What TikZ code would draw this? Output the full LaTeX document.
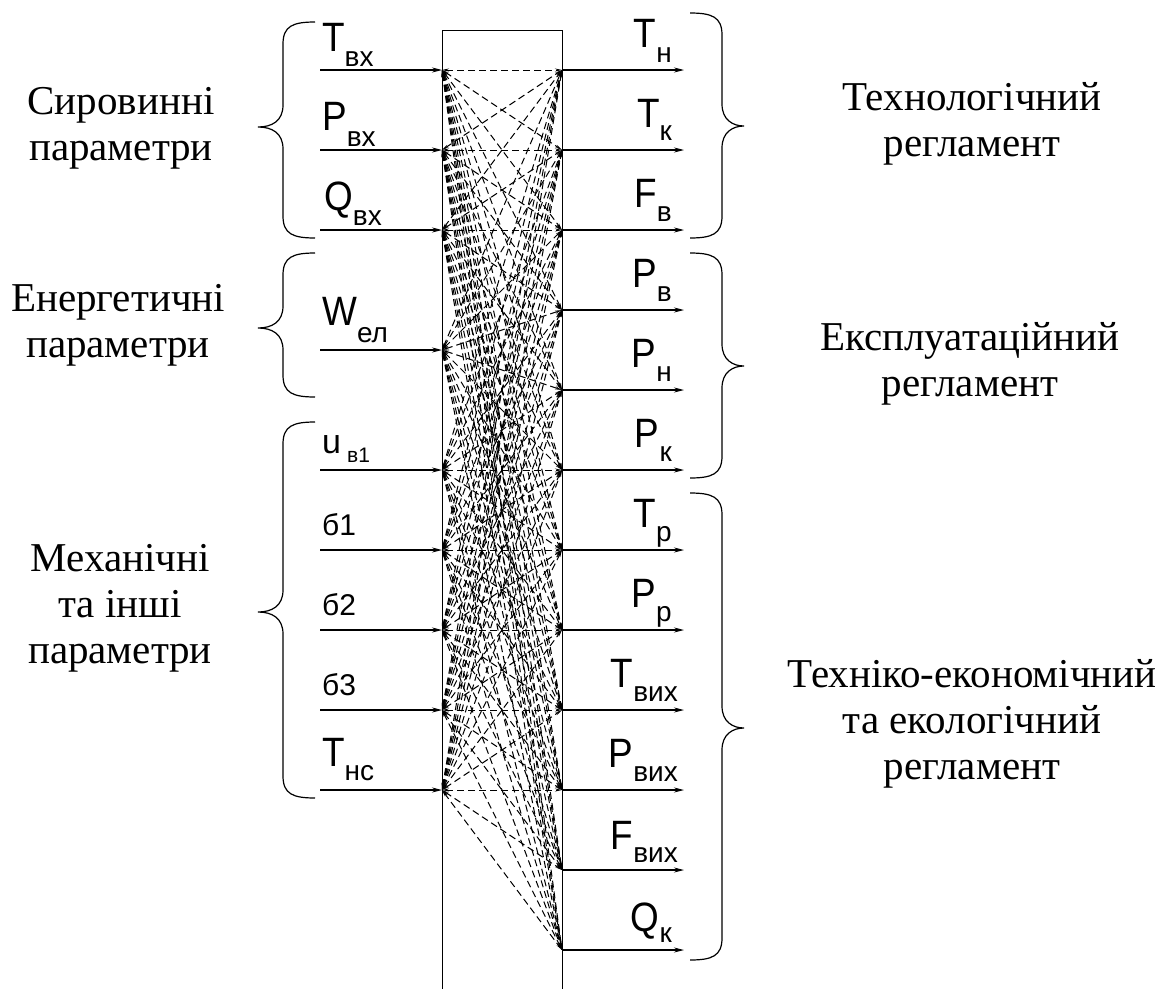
\documentclass[tikz,border=0pt]{standalone}
\usepackage{fontspec}
\setmainfont{Liberation Serif}
\newfontfamily\arialf{Liberation Sans}
\usetikzlibrary{arrows.meta}
\newcommand\mainL[1]{\scalebox{0.9}[1]{\fontsize{41}{41}\selectfont #1}}
\newcommand\subL[1]{{\fontsize{28}{28}\selectfont #1}}
\newcommand\lbrc[3]{\draw[bracestyle] (315,#1) .. controls (293,#1) and (283,#1+4) .. (283,#1+22) -- (283,#2-22) .. controls (283,#2-6) and (272,#2) .. (258,#2) .. controls (272,#2) and (283,#2+6) .. (283,#2+22) -- (283,#3-22) .. controls (283,#3-4) and (293,#3) .. (315,#3);}
\newcommand\rbrc[3]{\draw[bracestyle] (690,#1) .. controls (712,#1) and (722,#1+4) .. (722,#1+22) -- (722,#2-22) .. controls (722,#2-6) and (733,#2) .. (744,#2) .. controls (733,#2) and (722,#2+6) .. (722,#2+22) -- (722,#3-22) .. controls (722,#3-4) and (712,#3) .. (690,#3);}
\begin{document}
\begin{tikzpicture}[x=1pt,y=-1pt,
  conn/.style={line width=1.2pt,-{Stealth[length=10pt,width=5pt]}},
  web/.style={line width=1pt, dash pattern=on 7pt off 4pt, {Stealth[length=7pt,width=3pt]}-{Stealth[length=7pt,width=3pt]}},
  bracestyle/.style={line width=1.2pt},
  grp/.style={font=\fontsize{41}{46}\selectfont, align=center, inner sep=0pt},
  lbl/.style={font=\arialf, inner sep=0pt}
]
\useasboundingbox (0,0) rectangle (1167,988);
\clip (0,0) rectangle (1167,988);
\node[draw, line width=1.1pt, minimum width=120pt, minimum height=990pt, anchor=north west, inner sep=0pt] (box) at (442,30) {};
\foreach \y [count=\i] in {70,150,230,350,470,550,630,710,790} {
  \coordinate (L\i) at (442,\y);
  \coordinate (LS\i) at (320,\y);
}
\foreach \y [count=\j] in {70,150,230,310,390,470,550,630,710,790,870,950} {
  \coordinate (R\j) at (562,\y);
  \coordinate (RE\j) at (684,\y);
}
\foreach \i in {1,...,9} {\foreach \j in {1,...,12} {\draw[web] (L\i) -- (R\j);}}
\foreach \i in {1,...,9} {\draw[conn] (LS\i) -- (L\i);}
\foreach \j in {1,...,12} {\draw[conn] (R\j) -- (RE\j);}
% left labels
\node[lbl, anchor=base west] (tvx) at (322,51) {\mainL{T}\raisebox{-15pt}{\subL{вх}}};
\node[lbl, anchor=base west] (pvx) at (322,130) {\mainL{P}\raisebox{-16pt}{\subL{вх}}};
\node[lbl, anchor=base west] (qvx) at (324,210) {\mainL{Q}\raisebox{-15pt}{\subL{вх}}};
\node[lbl, anchor=base west] (wel) at (322,325) {\mainL{W}\raisebox{-17pt}{\subL{ел}}};
\node[lbl, anchor=base west] (uv1) at (322,453) {{\fontsize{34}{34}\selectfont u}\kern6pt\raisebox{-9pt}{\fontsize{21}{21}\selectfont в1}};
\node[lbl, anchor=base west] (b1) at (322,535) {\fontsize{30}{30}\selectfont б1};
\node[lbl, anchor=base west] (b2) at (322,615) {\fontsize{30}{30}\selectfont б2};
\node[lbl, anchor=base west] (b3) at (322,695) {\fontsize{30}{30}\selectfont б3};
\node[lbl, anchor=base west] (tns) at (322,766) {\mainL{T}\raisebox{-14pt}{\subL{нс}}};
% right labels
\node[lbl, anchor=base east] (tn) at (672,47) {\mainL{T}\raisebox{-15pt}{\subL{н}}};
\node[lbl, anchor=base east] (tk) at (672,127) {\mainL{T}\raisebox{-13pt}{\subL{к}}};
\node[lbl, anchor=base east] (fv) at (672,207) {\mainL{F}\raisebox{-14pt}{\subL{в}}};
\node[lbl, anchor=base east] (pv) at (672,287) {\mainL{P}\raisebox{-14pt}{\subL{в}}};
\node[lbl, anchor=base east] (pn) at (672,367) {\mainL{P}\raisebox{-14pt}{\subL{н}}};
\node[lbl, anchor=base east] (pk) at (672,447) {\mainL{P}\raisebox{-14pt}{\subL{к}}};
\node[lbl, anchor=base east] (tr) at (672,527) {\mainL{T}\raisebox{-14pt}{\subL{р}}};
\node[lbl, anchor=base east] (pr) at (672,607) {\mainL{P}\raisebox{-14pt}{\subL{р}}};
\node[lbl, anchor=base east] (tvyx) at (678,687) {\mainL{T}\raisebox{-14pt}{\subL{вих}}};
\node[lbl, anchor=base east] (pvyx) at (678,767) {\mainL{P}\raisebox{-14pt}{\subL{вих}}};
\node[lbl, anchor=base east] (fvyx) at (678,849) {\mainL{F}\raisebox{-13pt}{\subL{вих}}};
\node[lbl, anchor=base east] (qk) at (672,931) {\mainL{Q}\raisebox{-11pt}{\subL{к}}};
% braces
\lbrc{22}{127}{238}
\lbrc{253}{328}{397}
\lbrc{422}{612}{798}
\rbrc{13}{126}{238}
\rbrc{253}{366}{478}
\rbrc{493}{728}{960}
% group texts
\node[grp] (g1) at (121,128) {Сировинні\\параметри};
\node[grp] (g2) at (118,325) {Енергетичні\\параметри};
\node[grp] (g3) at (120,608) {Механічні\\та інші\\параметри};
\node[grp] (g4) at (972,124) {Технологічний\\регламент};
\node[grp] (g5) at (970,364) {Експлуатаційний\\регламент};
\node[grp] (g6) at (972,724) {Техніко-економічний\\та екологічний\\регламент};
\end{tikzpicture}
\end{document}
